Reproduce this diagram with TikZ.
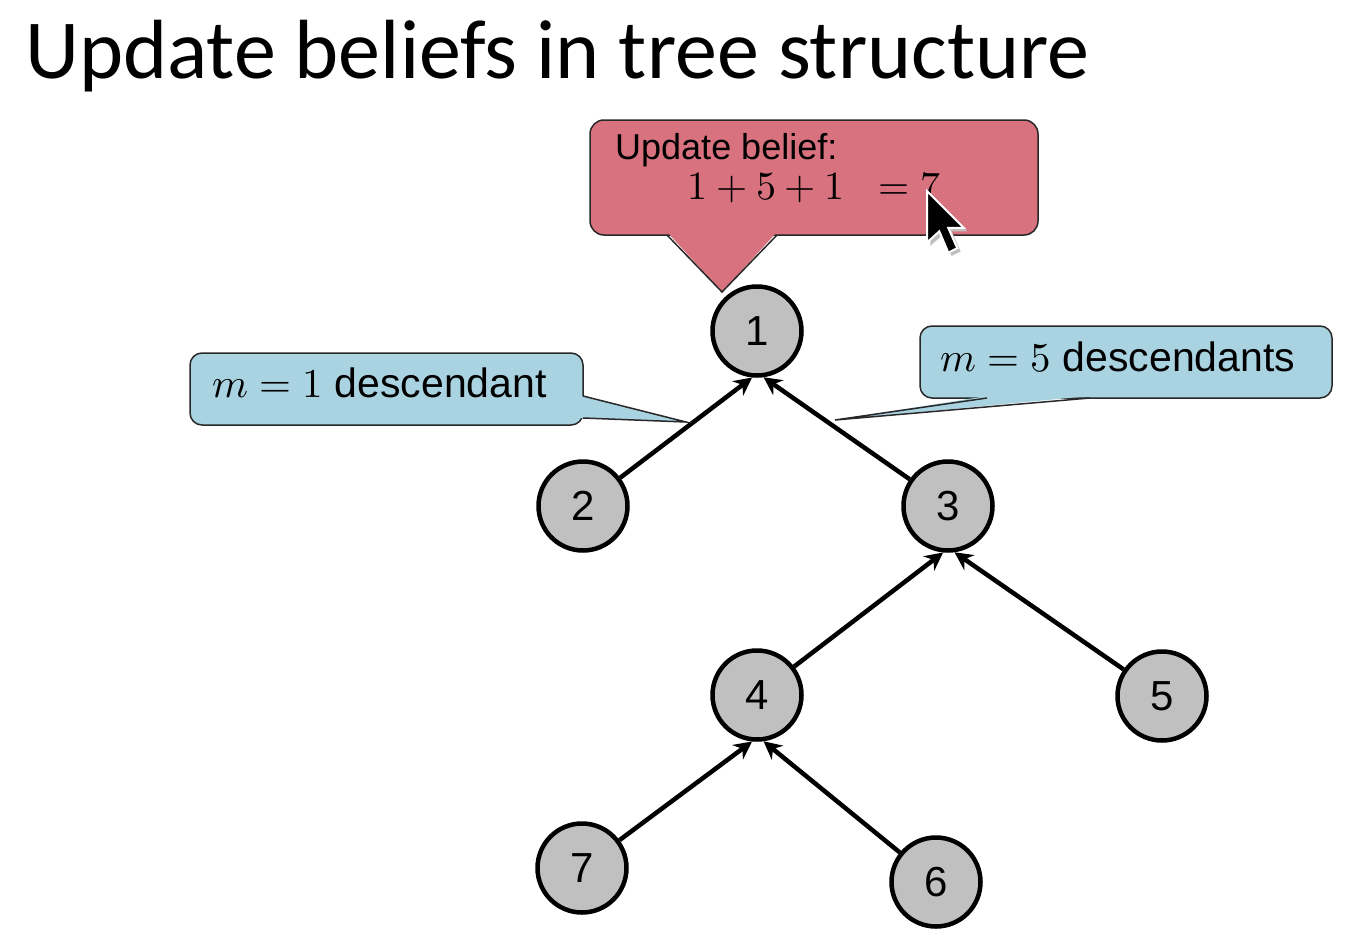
\documentclass[tikz,border=0pt]{standalone}
\usepackage{fontspec}
\usepackage{unicode-math}
\setmainfont{Liberation Sans}
\setmathfont{Latin Modern Math}
\newfontfamily\titlefont{Carlito}
\usetikzlibrary{arrows.meta}
\definecolor{nodegray}{RGB}{192,192,192}
\definecolor{calloutred}{RGB}{216,114,126}
\definecolor{calloutblue}{RGB}{170,211,226}
\definecolor{outline}{RGB}{40,40,40}
\begin{document}
\begin{tikzpicture}[x=1pt,y=-1pt,
  tnode/.style={circle,draw=black,line width=4.5pt,fill=nodegray,minimum size=89pt,inner sep=0pt,font=\fontsize{42}{48}\selectfont},
  edge/.style={line width=4.5pt,-{Stealth[length=18pt,width=18pt]}},
  boxline/.style={draw=outline,line width=1.5pt},
  lbl/.style={inner sep=0pt,anchor=base west}]
\fill[white] (0,0) rectangle (1368,950);
\useasboundingbox (0,0) rectangle (1368,950);

% title
\node[lbl,font=\titlefont\fontsize{84}{96}\selectfont] (title) at (25,78) {Update beliefs in tree structure};

% tree nodes
\node[tnode] (n1) at (757,331) {1};
\node[tnode] (n2) at (583,506) {2};
\node[tnode] (n3) at (948,506) {3};
\node[tnode] (n4) at (757,695) {4};
\node[tnode] (n5) at (1162,696) {5};
\node[tnode] (n7) at (582,868) {7};
\node[tnode] (n6) at (936,882) {6};

% edges
\draw[edge] (n2) -- (n1.264);
\draw[edge] (n3) -- (n1.278);
\draw[edge] (n4) -- (n3.264);
\draw[edge] (n5) -- (n3.278);
\draw[edge] (n7) -- (n4.264);
\draw[edge] (n6) -- (n4.278);

% red callout
\path[boxline,fill=calloutred,rounded corners=14pt] (590,120) rectangle (1038,235);
\fill[calloutred] (668,233) -- (776,233) -- (722,292) -- cycle;
\draw[outline,line width=1.5pt] (667,235) -- (722,292) -- (777,235);
\node[lbl,font=\fontsize{36}{40}\selectfont] (ub) at (615,159) {Update belief:};
\node[lbl,font=\fontsize{40}{48}\selectfont] (sum) at (687,199) {$1+5+1\ \ =7$};

% left blue callout
\path[boxline,fill=calloutblue,rounded corners=12pt] (190,353) rectangle (583,425);
\fill[calloutblue] (581,396) -- (581,418) -- (686,422) -- cycle;
\draw[outline,line width=1.5pt] (583,396) -- (686,422) -- (583,418);
\node[lbl,font=\fontsize{41}{46}\selectfont] (m1) at (212,397) {$m=1$ descendant};

% right blue callout
\path[boxline,fill=calloutblue,rounded corners=12pt] (920,326) rectangle (1332,398);
\fill[calloutblue] (987,396) -- (1090,396) -- (835,420) -- cycle;
\draw[outline,line width=1.5pt] (987,398) -- (835,420) -- (1090,398);
\node[lbl,font=\fontsize{41}{46}\selectfont] (m5) at (940,371) {$m=5$ descendants};

% mouse cursor
\begin{scope}[shift={(927,191)},scale=1.12]
\fill[black!25] (3,3) -- (3,49) -- (14,39) -- (22,58) -- (30,54) -- (22,36) -- (36,36) -- cycle;
\filldraw[fill=black,draw=white,line width=2pt,line join=miter] (0,0) -- (0,46) -- (11,36) -- (19,55) -- (27,51) -- (19,33) -- (33,33) -- cycle;
\end{scope}
\end{tikzpicture}
\end{document}
